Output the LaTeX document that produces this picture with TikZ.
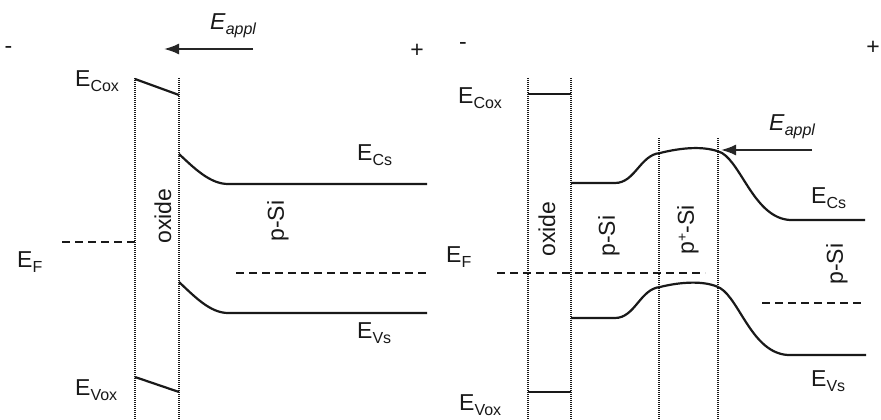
\documentclass[tikz,border=0pt]{standalone}
\usepackage{fontspec}
\setmainfont{Liberation Sans}
\usetikzlibrary{arrows.meta}
% energy level with a lowered subscript
\newcommand{\bandsub}[2]{#1\raisebox{-5pt}{\fontsize{16}{16}\selectfont #2}}
% applied field label
\newcommand{\fieldlbl}{\textit{E}\raisebox{-5pt}{\fontsize{16}{16}\selectfont\itshape appl}}
\begin{document}
\begin{tikzpicture}[x=1pt,y=-1pt,
  lbl/.style={anchor=base west, inner sep=0pt, text=black!90, font=\fontsize{23}{26}\selectfont},
  sign/.style={inner sep=0pt, text=black!90, font=\fontsize{23}{26}\selectfont},
  region/.style={rotate=90, inner sep=0pt, text=black!90, font=\fontsize{23}{26}\selectfont},
  band/.style={line width=2.2pt, black!90},
  fermi/.style={line width=2.2pt, black!90, dash pattern=on 8pt off 5pt},
  boundary/.style={line width=1.4pt, black!90, dash pattern=on 0.9pt off 1.1pt},
  fieldarrow/.style={line width=2pt, black!85, -{Latex[length=15pt,width=11pt]}}
]
\useasboundingbox (0,0) rectangle (881,420);
\fill[white] (0,0) rectangle (881,420);

% ---------------- left: oxide / p-Si ----------------
\node[sign] (minusL) at (8.5,50) {-};
\node[sign] (plusL) at (417,51) {+};
\node[lbl] (fieldL) at (210,30) {\fieldlbl};
\coordinate (fieldLs) at (253,49);
\coordinate (fieldLe) at (164,49);
\draw[fieldarrow] (fieldLs) -- (fieldLe);

% oxide boundaries
\draw[boundary] (135,78) -- (135,420);
\draw[boundary] (179,78) -- (179,420);

% oxide bands
\draw[band] (135,79) -- (179,95);
\draw[band] (135,377) -- (179,392);
\node[lbl] (EcoxL) at (75,87) {\bandsub{E}{Cox}};
\node[lbl] (EvoxL) at (75,395) {\bandsub{E}{Vox}};

% silicon bands
\draw[band] (179,154) .. controls (194,168) and (210,184) .. (228,184) -- (427,184);
\draw[band] (179,282) .. controls (194,296) and (210,313) .. (228,313) -- (427,313);
\node[lbl] (EcsL) at (357,160) {\bandsub{E}{Cs}};
\node[lbl] (EvsL) at (357,338) {\bandsub{E}{Vs}};

% Fermi levels
\draw[fermi] (62,242) -- (135,242);
\draw[fermi] (236,273) -- (427,273);
\node[lbl] (EfL) at (17,267) {\bandsub{E}{F}};

\node[region] (oxL) at (163,216) {oxide};
\node[region] (siL) at (278,221) {p-Si};

% ---------------- right: oxide / p-Si / p+-Si / p-Si ----------------
\node[sign] (minusR) at (463,46) {-};
\node[sign] (plusR) at (873,48) {+};
\node[lbl] (fieldR) at (769,130) {\fieldlbl};
\coordinate (fieldRs) at (812,150);
\coordinate (fieldRe) at (721,150);
\draw[fieldarrow] (fieldRs) -- (fieldRe);

% region boundaries
\draw[boundary] (528,78) -- (528,420);
\draw[boundary] (571,78) -- (571,420);
\draw[boundary] (659,138) -- (659,420);
\draw[boundary] (718,138) -- (718,420);

% oxide bands
\draw[band] (528,94) -- (571,94);
\draw[band] (528,392) -- (571,392);
\node[lbl] (EcoxR) at (458,103) {\bandsub{E}{Cox}};
\node[lbl] (EvoxR) at (459,410) {\bandsub{E}{Vox}};

% silicon bands
\draw[band] (571,183) -- (615,183) .. controls (635,183) and (640,155) .. (660,153)
  .. controls (680,148) and (705,145) .. (722,153)
  .. controls (742,165) and (755,218) .. (790,220) -- (865,220);
\draw[band] (571,318) -- (615,318) .. controls (635,318) and (640,289) .. (660,287)
  .. controls (680,282) and (705,280) .. (720,288)
  .. controls (740,300) and (752,353) .. (788,355) -- (866,355);
\node[lbl] (EcsR) at (811,203) {\bandsub{E}{Cs}};
\node[lbl] (EvsR) at (811,386) {\bandsub{E}{Vs}};

% Fermi levels
\draw[fermi] (497,273) -- (705,273);
\draw[fermi] (762,303) -- (865,303);
\node[lbl] (EfR) at (446,262) {\bandsub{E}{F}};

\node[region] (oxR) at (547,229) {oxide};
\node[region] (siR1) at (609,236) {p-Si};
\node[region] (siR2) at (688,230) {p\raisebox{7pt}{\fontsize{14}{14}\selectfont +}-Si};
\node[region] (siR3) at (837,264) {p-Si};
\end{tikzpicture}
\end{document}
